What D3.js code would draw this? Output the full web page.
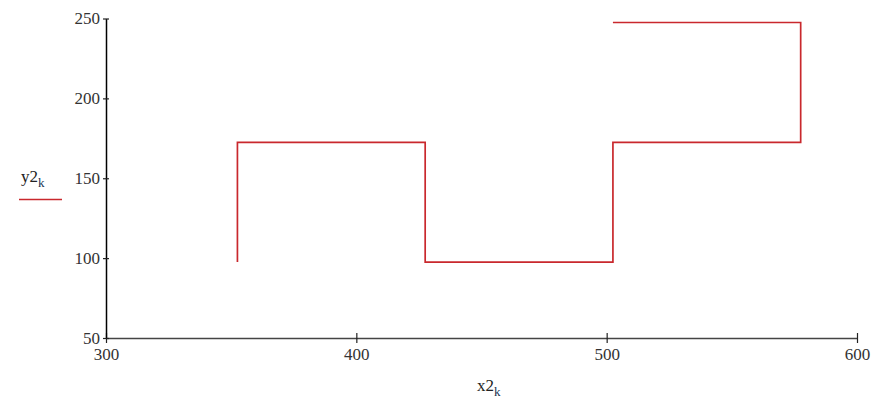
<!DOCTYPE html>
<html lang="en">
  <head>
    <meta charset="utf-8" />
    <title>y2k vs x2k</title>
    <script src="https://d3js.org/d3.v7.min.js"></script>
    <style>
      body {
        margin: 0;
        background: #fff;
      }

      .axis text {
        font-family: "Liberation Serif", "Times New Roman", serif;
        font-size: 17px;
        fill: #333;
      }

      .label {
        font-family: "Liberation Serif", "Times New Roman", serif;
        font-size: 17px;
        fill: #222;
      }
    </style>
  </head>

  <body>
    <svg id="chart"></svg>

    <script>
      // step trace
      const x2 = [352.5, 352.5, 427.5, 427.5, 502.5, 502.5, 577.5, 577.5, 502.5];
      const y2 = [97.5, 172.5, 172.5, 97.5, 97.5, 172.5, 172.5, 247.5, 247.5];

      const xTicks = [300, 400, 500, 600];
      const yTicks = [50, 100, 150, 200, 250];

      const width = 895;
      const height = 406;
      const lineColor = "#c9282d";

      const svg = d3.select("#chart").attr("width", width).attr("height", height);

      // Scales setup
      const xscale = d3.scaleLinear().domain([300, 600]).range([106, 857]);
      const yscale = d3.scaleLinear().domain([50, 250]).range([338, 18.5]);

      // x axis, ticks crossing the line
      const g_xaxis = svg
        .append("g")
        .attr("class", "x axis")
        .attr("transform", `translate(0,${yscale(50)})`)
        .call(d3.axisBottom(xscale).tickValues(xTicks).tickSize(5).tickSizeOuter(0).tickPadding(5));
      g_xaxis.select(".domain").attr("stroke", "#444").attr("stroke-width", 1.5);
      g_xaxis.selectAll(".tick line").attr("y1", -5).attr("y2", 5).attr("stroke", "#222").attr("stroke-width", 1.2);

      // y axis
      const g_yaxis = svg
        .append("g")
        .attr("class", "y axis")
        .attr("transform", `translate(${xscale(300)},0)`)
        .call(d3.axisLeft(yscale).tickValues(yTicks).tickSize(3).tickSizeOuter(0).tickPadding(3));
      g_yaxis.select(".domain").attr("stroke", "#000").attr("stroke-width", 1.5);
      g_yaxis.selectAll(".tick line").attr("x1", -3).attr("x2", 3).attr("stroke", "#222").attr("stroke-width", 1.2);

      // the trace
      const points = x2.map((x, i) => [x, y2[i]]);
      const line = d3
        .line()
        .x((d) => xscale(d[0]))
        .y((d) => yscale(d[1]));

      svg
        .append("path")
        .datum(points)
        .attr("d", line)
        .attr("fill", "none")
        .attr("stroke", lineColor)
        .attr("stroke-width", 1.7);

      // x label
      const xl = svg.append("text").attr("class", "label").attr("x", 477).attr("y", 391);
      xl.append("tspan").text("x2");
      xl.append("tspan").attr("dy", 5).attr("font-size", 13).attr("fill", "#1b3553").text("k");

      // legend
      const yl = svg.append("text").attr("class", "label").attr("x", 21).attr("y", 182);
      yl.append("tspan").text("y2");
      yl.append("tspan").attr("dy", 5).attr("font-size", 13).attr("fill", "#1b3553").text("k");

      svg
        .append("line")
        .attr("x1", 19)
        .attr("x2", 62)
        .attr("y1", 199.5)
        .attr("y2", 199.5)
        .attr("stroke", lineColor)
        .attr("stroke-width", 1.7);
    </script>
  </body>
</html>
